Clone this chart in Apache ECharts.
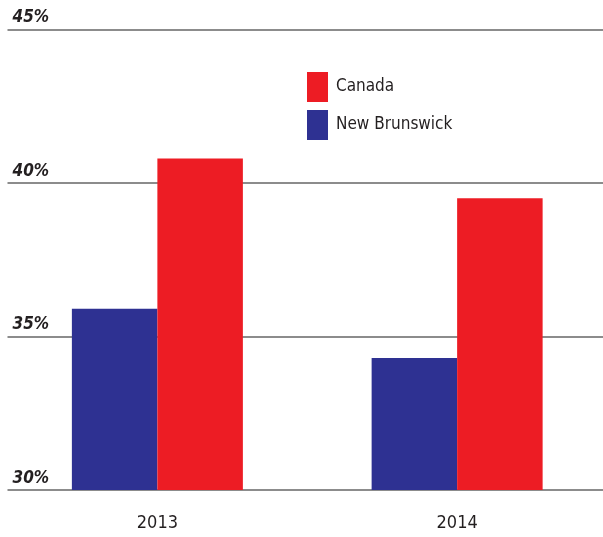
<!DOCTYPE html>
<html>
<head>
<meta charset="utf-8">
<script src="https://cdn.jsdelivr.net/npm/echarts@6/dist/echarts.min.js"></script>
<style>
  html, body { margin: 0; padding: 0; background: #fff; overflow: hidden; }
  #chart { width: 607px; height: 537px; }
</style>
</head>
<body>
<div id="chart"></div>
<script>
// Share of population (%) by year
const years = ['2013', '2014'];
const newBrunswick = [35.9, 34.3];
const canada = [40.8, 39.5];
const yTicks = { min: 30, max: 45, step: 5 };

const FONT = "'DejaVu Sans Condensed', 'DejaVu Sans', sans-serif";
const INK = '#231F20';

const chart = echarts.init(document.getElementById('chart'), null, { renderer: 'canvas' });
chart.setOption({
  animation: false,
  backgroundColor: '#ffffff',
  grid: { left: 7.5, right: 0, top: 29.5, bottom: 47 },
  legend: {
    orient: 'vertical',
    left: 307,
    top: 72,
    padding: 0,
    itemWidth: 21,
    itemHeight: 30,
    itemGap: 8,
    icon: 'rect',
    data: ['Canada', 'New Brunswick'],
    textStyle: { fontFamily: FONT, fontSize: 17, color: INK, padding: [0, 0, 0, 3] }
  },
  xAxis: {
    type: 'category',
    data: years,
    axisLine: { show: false },
    axisTick: { show: false },
    axisLabel: { fontFamily: FONT, fontSize: 18, color: INK, margin: 24 }
  },
  yAxis: {
    type: 'value',
    min: yTicks.min,
    max: yTicks.max,
    interval: yTicks.step,
    axisLine: { show: false },
    axisTick: { show: false },
    splitLine: { show: true, lineStyle: { color: '#8c8c8c', width: 2 } },
    axisLabel: {
      inside: true,
      margin: 5,
      align: 'left',
      verticalAlign: 'bottom',
      padding: [0, 0, 3, 0],
      fontFamily: FONT,
      fontSize: 17,
      fontStyle: 'italic',
      fontWeight: 'bold',
      color: INK,
      formatter: v => v + '%'
    }
  },
  series: [
    {
      name: 'New Brunswick',
      type: 'bar',
      data: newBrunswick,
      barWidth: 85.5,
      barGap: '0%',
      itemStyle: { color: '#2E3192' }
    },
    {
      name: 'Canada',
      type: 'bar',
      data: canada,
      barWidth: 85.5,
      barGap: '0%',
      itemStyle: { color: '#ED1C24' }
    }
  ]
});
</script>
</body>
</html>
